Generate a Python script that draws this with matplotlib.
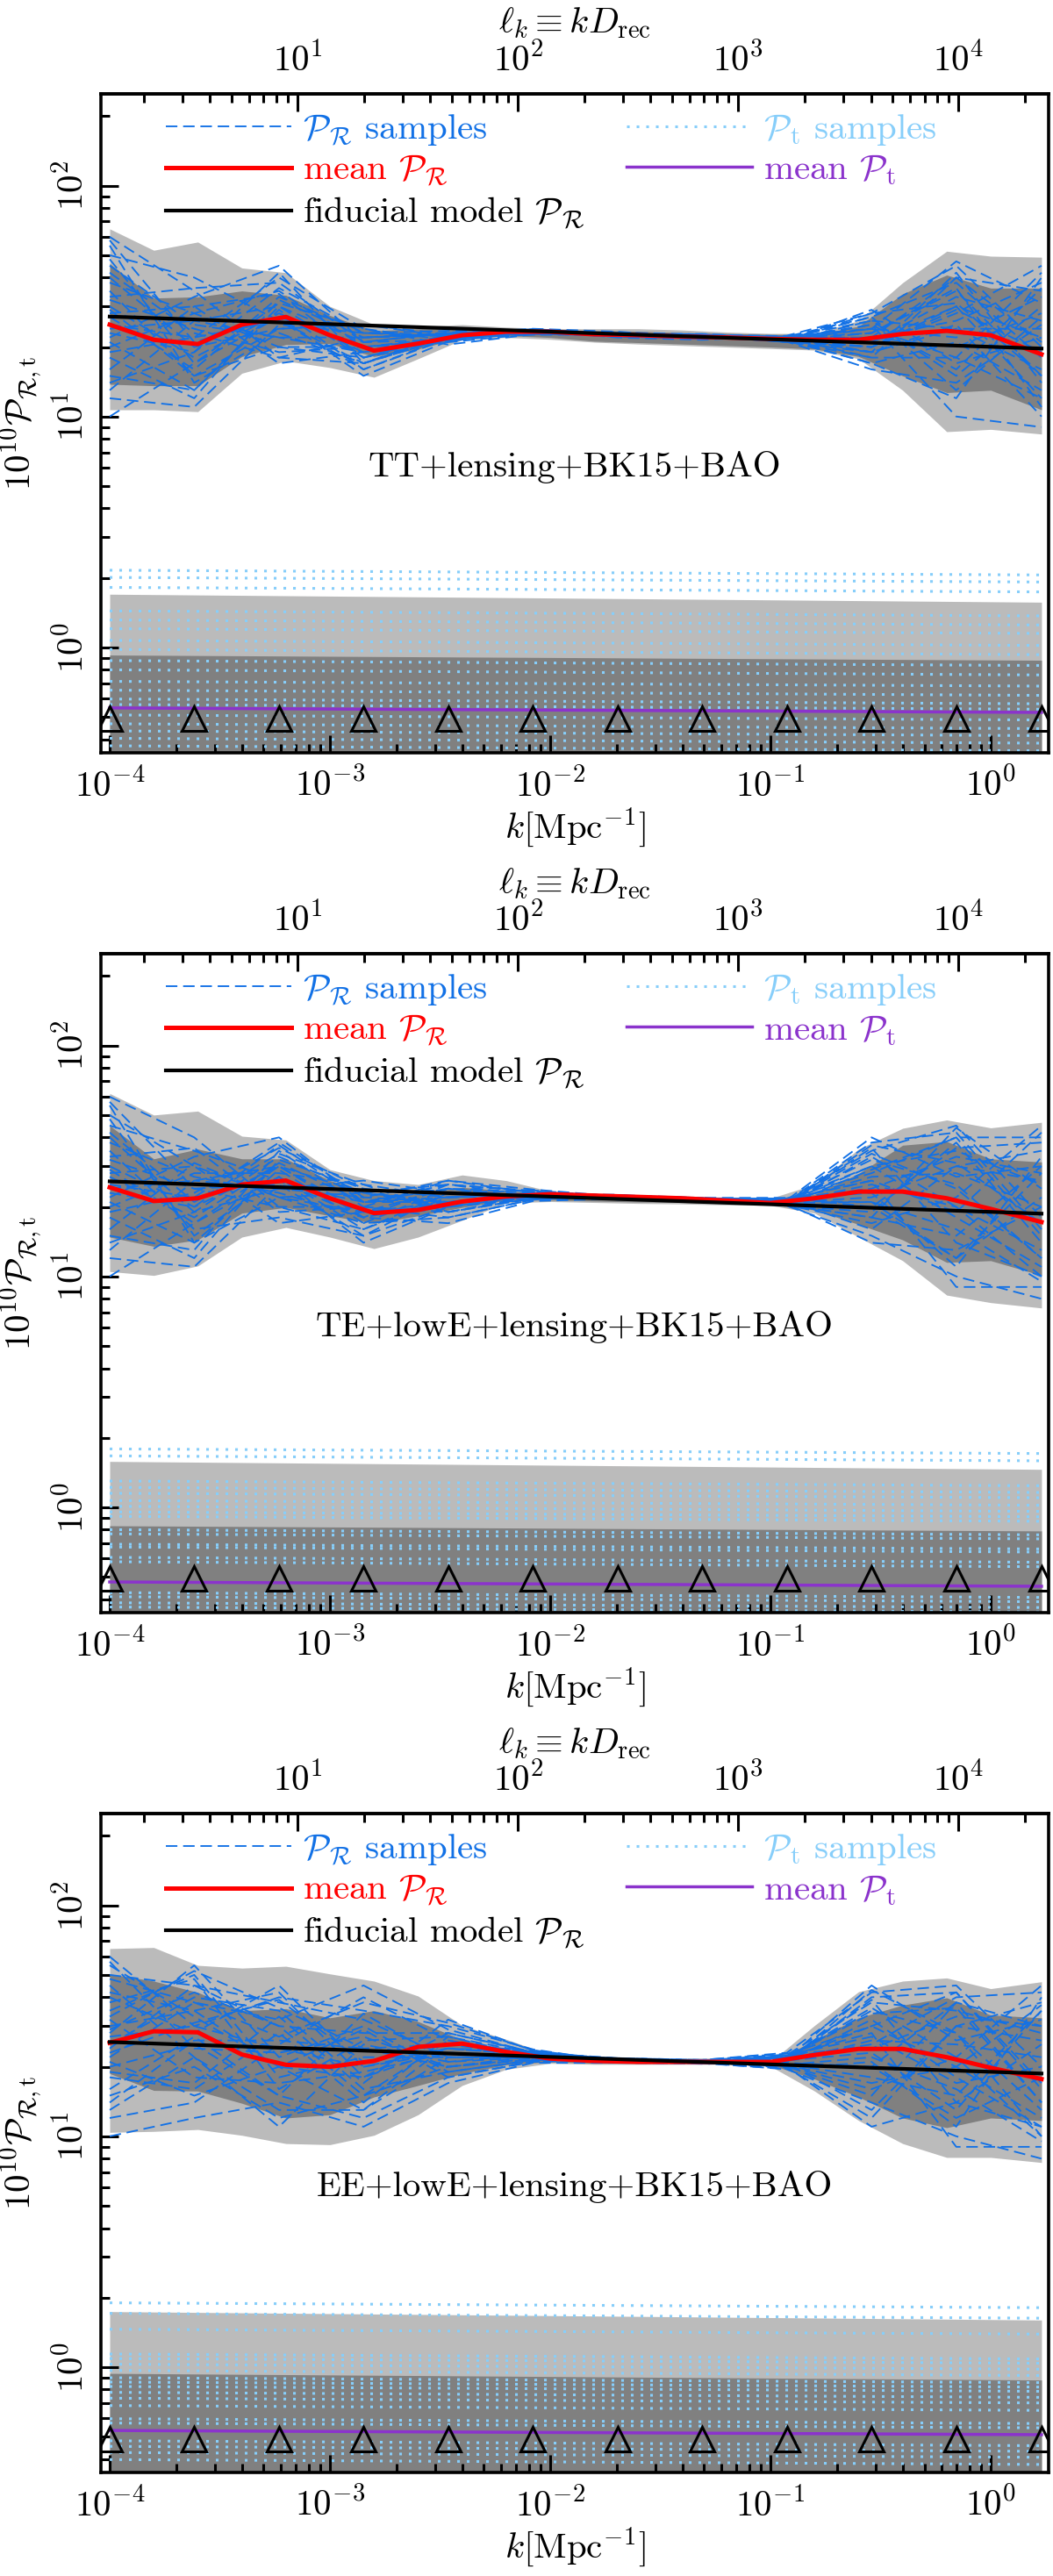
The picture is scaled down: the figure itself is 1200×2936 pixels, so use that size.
import numpy as np
import matplotlib
matplotlib.use("Agg")
import matplotlib.pyplot as plt
from matplotlib.lines import Line2D

plt.rcParams.update({
    "font.family": "serif",
    "font.serif": ["cmr10"],
    "mathtext.fontset": "cm",
    "axes.formatter.use_mathtext": True,
    "font.size": 29.5,
})

# k grid for the bands / means, knot positions for the samples
K_GRID = [1.0e-4, 1.585e-4, 2.512e-4, 3.981e-4, 6.31e-4, 1.0e-3, 1.585e-3, 2.512e-3,
          3.981e-3, 6.31e-3, 1.0e-2, 1.585e-2, 2.512e-2, 3.981e-2, 6.31e-2, 0.1,
          0.1585, 0.2512, 0.3981, 0.631, 1.0, 1.70]
K_KNOTS = [1.0e-4, 2.42e-4, 5.87e-4, 1.42e-3, 3.44e-3, 8.34e-3, 2.02e-2, 4.9e-2,
           0.1186, 0.2877, 0.697, 1.70]
K_ENDS = [1.0e-4, 1.70]
T_FLOOR = [0.1, 0.1]
TRI_Y = 0.49
D_REC = 14000.0

LABELS = ["TT+lensing+BK15+BAO", "TE+lowE+lensing+BK15+BAO", "EE+lowE+lensing+BK15+BAO"]

# ---- TT+lensing+BK15+BAO
tt_hi2 = [65, 52.5, 57, 44, 42, 30, 25, 24.6, 25, 24.4, 24, 24, 24, 23.7, 23.2, 22.9, 22.9, 26, 38, 52, 49.5, 49]
tt_hi1 = [46, 32.6, 33, 35, 33.5, 27.4, 23.5, 24, 24.4, 24, 23.7, 23.6, 23.4, 23.1, 22.9, 22.7, 22.6, 24.6, 34, 41, 36, 36]
tt_lo1 = [13.8, 13.6, 13.6, 18.2, 20.5, 20.7, 18.2, 19.6, 22, 22.4, 22.0, 21.2, 20.9, 20.6, 20.3, 20.0, 19.6, 18.2, 15, 12.7, 13, 10.7]
tt_lo2 = [10.7, 10.7, 10.5, 15.4, 17.4, 16.3, 14.8, 17.8, 21.5, 22.0, 21.6, 21.0, 20.6, 20.3, 20.0, 19.7, 19.4, 17.8, 13.0, 8.6, 8.8, 8.4]
tt_mean = [25, 21.5, 20.6, 25, 27, 22.5, 19.3, 20.7, 22.5, 23.3, 23.3, 22.7, 22.5, 22.2, 22.0, 21.7, 21.5, 21.5, 22.8, 23.5, 22.5, 18.6]
tt_fid = [27.1, 19.7]
tt_samples = [
    [30, 18, 28, 19, 22.0, 23.5, 22.8, 22.2, 21.5, 20, 30, 22],
    [45, 25, 22, 22, 23.0, 23.0, 22.4, 22.0, 21.8, 24, 18, 12],
    [15, 13, 30, 21, 21.5, 23.8, 23.0, 22.4, 21.2, 18, 40, 35],
    [60, 35, 18, 17, 22.5, 23.2, 22.2, 21.8, 22.0, 26, 15, 30],
    [20, 28, 35, 20, 21.0, 22.8, 22.9, 22.6, 21.0, 19, 25, 10],
    [12, 11, 25, 23, 23.5, 23.5, 22.0, 21.5, 22.4, 28, 45, 20],
    [35, 15, 20, 18, 22.8, 24.0, 23.3, 22.0, 21.3, 17, 12, 40],
    [25, 22, 40, 24, 20.5, 22.7, 22.6, 22.8, 21.9, 23, 35, 15],
    [50, 40, 26, 16, 22.0, 23.4, 22.5, 22.1, 21.6, 22, 20, 28],
    [18, 12, 32, 22, 22.8, 23.0, 23.0, 22.3, 21.4, 25, 10, 9],
    [28, 30, 17, 19, 21.8, 23.6, 22.7, 21.9, 21.7, 20, 28, 45],
    [40, 20, 24, 25, 22.2, 22.9, 22.3, 22.5, 22.2, 27, 38, 18],
    [10, 17, 27, 15, 21.2, 23.2, 22.8, 22.2, 21.1, 16, 14, 25],
    [22, 33, 45, 21, 23.0, 23.7, 22.4, 21.7, 21.9, 21, 30, 12],
    [32, 24, 19, 20, 21.5, 23.1, 23.1, 22.7, 21.5, 24, 22, 33],
    [14, 19, 36, 23, 22.6, 23.3, 22.1, 22.0, 21.8, 19, 42, 14],
    [55, 14, 23, 17, 21.9, 22.8, 22.6, 22.3, 21.3, 29, 17, 22],
    [24, 26, 30, 18, 22.4, 23.9, 22.9, 21.8, 22.0, 22, 26, 38],
    [27, 16, 33, 23, 22.3, 23.1, 22.5, 22.3, 21.6, 21, 33, 26],
    [38, 28, 20, 20, 21.6, 23.7, 23.0, 22.0, 21.2, 26, 24, 16],
    [19, 22, 26, 17, 22.9, 22.6, 22.7, 22.6, 21.9, 18, 18, 42],
    [48, 17, 31, 24, 21.4, 23.3, 22.2, 22.1, 21.4, 23, 36, 11],
    [13, 26, 22, 19, 22.1, 23.9, 22.9, 21.9, 21.7, 27, 13, 27],
    [33, 36, 38, 21, 23.2, 22.9, 22.6, 22.4, 21.0, 20, 29, 19],
    [21, 13, 29, 16, 21.7, 23.4, 22.4, 22.6, 22.3, 24, 47, 31],
    [42, 23, 18, 22, 22.5, 23.0, 23.2, 21.9, 21.5, 17, 21, 13],
    [16, 30, 34, 18, 21.3, 23.6, 22.3, 22.2, 21.8, 25, 16, 36],
    [29, 15, 24, 25, 22.7, 22.8, 22.8, 22.5, 21.2, 22, 40, 21],
    [58, 21, 27, 20, 22.0, 23.5, 22.5, 21.8, 22.1, 19, 24, 24],
    [23, 19, 42, 17, 21.9, 23.2, 22.9, 22.3, 21.4, 28, 31, 15],
]
tt_t_hi2 = [1.70, 1.57]
tt_t_hi1 = [0.927, 0.88]
tt_t_mean = [0.547, 0.523]
tt_t_left = [2.16, 2.01, 1.82, 1.44, 1.315, 1.205, 1.073, 0.98, 0.877, 0.80, 0.713, 0.653, 0.598, 0.566, 0.51, 0.467, 0.435, 0.404, 0.375]
tt_t_right = [2.06, 1.92, 1.74, 1.37, 1.25, 1.15, 1.02, 0.93, 0.835, 0.76, 0.68, 0.62, 0.57, 0.54, 0.485, 0.445, 0.415, 0.385, 0.357]

# ---- TE+lowE+lensing+BK15+BAO
te_hi2 = [62, 50, 52, 40.5, 39, 29, 26, 25, 27.5, 26, 23.4, 22.7, 22.4, 22, 21.8, 21.8, 25, 35.6, 43.8, 47.6, 44, 46.5]
te_hi1 = [45, 32.3, 35.6, 32.3, 32.3, 26, 23, 22.7, 24.3, 23.5, 22.7, 22.2, 21.9, 21.8, 21.6, 21.4, 22.7, 27.9, 37, 38.4, 32.3, 31.3]
te_lo1 = [14.8, 13.5, 14.4, 18.8, 19.9, 18.3, 17, 18.3, 19.9, 21.4, 21.4, 21.2, 21.0, 20.9, 20.7, 20.5, 19.4, 16.8, 14.4, 11.5, 11.7, 10.1]
te_lo2 = [10.5, 10.1, 11.1, 14.8, 16.3, 14.8, 13.2, 14.8, 17.5, 20.8, 21.1, 20.9, 20.7, 20.6, 20.4, 20.3, 18.8, 14.8, 11.7, 8.3, 7.7, 7.3]
te_mean = [24.3, 21.2, 21.8, 25, 26, 21.8, 18.8, 19.4, 21.1, 22.2, 22.7, 22.4, 22.1, 21.8, 21.3, 20.8, 21.8, 23.3, 23.3, 21.8, 19.6, 17.2]
te_fid = [25.8, 18.7]
te_samples = [
    [30, 20, 30, 18, 21, 22.5, 22.0, 21.4, 21.0, 25, 20, 10],
    [50, 30, 22, 23, 25, 23.5, 21.6, 21.0, 21.5, 30, 35, 25],
    [15, 13, 35, 20, 18, 21.5, 22.4, 21.8, 20.5, 18, 15, 30],
    [60, 40, 20, 16, 22, 22.8, 21.8, 21.2, 21.2, 35, 45, 18],
    [20, 28, 28, 25, 19, 21.8, 22.3, 21.6, 20.2, 15, 10, 8],
    [12, 11, 25, 21, 24, 23.2, 21.5, 21.5, 21.8, 28, 40, 40],
    [35, 16, 18, 15, 20, 22.0, 22.5, 21.9, 20.7, 20, 12, 22],
    [25, 22, 38, 22, 26, 23.8, 22.2, 21.3, 21.3, 32, 25, 12],
    [45, 35, 26, 18, 17, 21.2, 21.7, 21.7, 20.9, 22, 30, 35],
    [18, 12, 32, 24, 22, 22.6, 22.6, 21.1, 21.6, 26, 9, 9],
    [28, 30, 17, 19, 21, 23.0, 21.9, 21.4, 20.4, 17, 22, 45],
    [40, 19, 24, 26, 23, 22.2, 22.1, 21.8, 21.1, 38, 42, 16],
    [10, 17, 27, 14, 20, 21.6, 22.4, 21.5, 20.6, 14, 13, 20],
    [22, 33, 40, 21, 25, 23.3, 21.7, 21.2, 21.7, 24, 33, 28],
    [32, 24, 20, 20, 19, 22.3, 22.0, 21.7, 21.0, 30, 18, 11],
    [14, 19, 33, 23, 21, 22.9, 22.3, 21.4, 20.3, 19, 38, 14],
    [55, 14, 22, 17, 24, 21.9, 21.8, 21.6, 21.4, 40, 27, 30],
    [24, 26, 30, 19, 20, 22.4, 22.5, 21.3, 20.8, 21, 16, 9.5],
    [27, 18, 31, 21, 22, 22.9, 22.0, 21.6, 21.3, 27, 28, 20],
    [38, 27, 23, 18, 25, 22.3, 21.7, 21.2, 20.6, 33, 20, 13],
    [19, 23, 36, 24, 19, 21.7, 22.4, 21.9, 21.9, 20, 36, 38],
    [48, 15, 27, 16, 23, 23.6, 22.1, 21.3, 20.8, 36, 14, 10],
    [13, 26, 24, 22, 21, 22.1, 21.9, 21.7, 21.4, 16, 30, 26],
    [33, 36, 19, 20, 26, 23.0, 22.2, 21.5, 20.5, 29, 40, 15],
    [21, 14, 29, 17, 18, 21.5, 21.8, 21.8, 21.7, 23, 11, 33],
    [42, 21, 34, 25, 22, 22.7, 22.5, 21.2, 21.0, 34, 24, 12],
    [16, 31, 22, 19, 24, 22.0, 21.6, 21.6, 20.4, 18, 44, 24],
    [29, 17, 30, 23, 20, 23.3, 22.3, 21.4, 21.5, 26, 19, 42],
    [57, 24, 25, 15, 23, 22.5, 21.9, 21.9, 20.9, 37, 31, 17],
    [23, 20, 37, 21, 21, 21.9, 22.0, 21.3, 21.2, 21, 12, 28],
]
te_t_hi2 = [1.58, 1.46]
te_t_hi1 = [0.832, 0.79]
te_t_mean = [0.475, 0.455]
te_t_left = [1.79, 1.67, 1.30, 1.22, 1.15, 1.07, 1.01, 0.955, 0.914, 0.80, 0.767, 0.692, 0.673, 0.607, 0.581, 0.427, 0.41, 0.386, 0.37]
te_t_right = [1.71, 1.59, 1.24, 1.16, 1.10, 1.02, 0.96, 0.91, 0.87, 0.76, 0.73, 0.66, 0.64, 0.578, 0.553, 0.407, 0.39, 0.368, 0.352]

# ---- EE+lowE+lensing+BK15+BAO
ee_hi2 = [65, 65.7, 55, 53.5, 54.5, 50.5, 47, 40.5, 30.2, 26.3, 22.6, 22, 21.8, 21.8, 21.8, 21, 30.2, 42.3, 47, 48.5, 43.6, 46.7]
ee_hi1 = [50.5, 47, 42, 35, 35.7, 32.6, 35, 31.4, 26.2, 23.6, 22.2, 21.6, 21.6, 21.6, 21.6, 20.6, 26.2, 32.6, 37, 39.8, 33.5, 32.6]
ee_lo1 = [18.7, 15.8, 15.7, 13.9, 12, 12.4, 14.8, 16.6, 18.7, 20.4, 21, 20.7, 20.7, 20.7, 20.7, 20.4, 17.7, 14.8, 12, 10.9, 12, 11.7]
ee_lo2 = [10.4, 10.5, 10.7, 10.1, 9.3, 9.2, 10.1, 12.4, 16.6, 19.5, 20.7, 20.5, 20.5, 20.5, 20.5, 20.1, 15.7, 11.7, 9.3, 8.1, 8.1, 7.7]
ee_mean = [25.4, 28.5, 28.2, 22.6, 20.4, 20, 21.2, 24.4, 25.2, 23.2, 21.7, 21.2, 21, 21, 21, 21, 22.5, 23.9, 23.9, 22, 19.8, 17.7]
ee_fid = [25.6, 18.7]
ee_samples = [
    [30, 35, 20, 18, 24, 22.5, 21.2, 20.9, 21.5, 30, 20, 12],
    [50, 45, 30, 28, 28, 23.2, 21.5, 21.2, 22.5, 38, 35, 28],
    [15, 20, 12, 15, 20, 21.5, 20.8, 20.7, 20.5, 18, 15, 35],
    [60, 30, 40, 35, 30, 23.8, 21.0, 21.4, 23, 42, 45, 20],
    [20, 25, 15, 12, 18, 21.0, 21.4, 20.8, 19.5, 14, 10, 8],
    [12, 14, 25, 40, 26, 22.8, 21.7, 21.1, 22.0, 25, 40, 42],
    [35, 50, 18, 22, 22, 21.8, 20.9, 20.6, 20.8, 20, 12, 18],
    [25, 40, 35, 17, 32, 23.5, 21.3, 21.3, 21.8, 35, 28, 10],
    [45, 22, 11, 25, 21, 22.0, 21.6, 21.0, 19.8, 12, 30, 38],
    [18, 16, 28, 14, 27, 22.2, 21.1, 20.9, 22.3, 28, 9, 9],
    [28, 55, 22, 30, 19, 21.3, 21.5, 21.2, 20.2, 16, 22, 45],
    [40, 28, 45, 20, 24, 22.6, 21.0, 20.8, 21.2, 40, 42, 16],
    [10, 12, 14, 11, 17, 20.8, 20.8, 21.0, 20.0, 11, 14, 25],
    [22, 38, 32, 45, 29, 23.0, 21.8, 21.4, 22.8, 24, 33, 30],
    [32, 18, 17, 19, 23, 22.4, 21.2, 20.7, 21.0, 32, 18, 11],
    [14, 26, 26, 24, 20, 21.7, 21.4, 21.1, 20.6, 20, 38, 14],
    [55, 33, 20, 13, 25, 23.4, 21.1, 20.9, 21.6, 45, 26, 32],
    [24, 45, 38, 32, 22, 22.1, 21.6, 21.3, 20.4, 22, 16, 9.5],
    [27, 30, 24, 20, 23, 22.3, 21.3, 21.0, 21.1, 26, 25, 22],
    [38, 48, 16, 26, 27, 22.9, 21.0, 20.8, 22.0, 34, 36, 14],
    [19, 17, 33, 16, 19, 21.4, 21.6, 21.2, 20.3, 17, 20, 37],
    [48, 38, 27, 38, 31, 23.6, 21.2, 21.1, 21.4, 39, 14, 11],
    [13, 22, 13, 13, 22, 21.9, 21.5, 20.9, 20.7, 13, 30, 26],
    [33, 52, 36, 24, 25, 22.4, 20.9, 21.3, 22.6, 30, 42, 17],
    [21, 15, 20, 29, 18, 21.1, 21.4, 20.7, 19.6, 21, 11, 40],
    [42, 35, 42, 18, 28, 23.1, 21.7, 21.2, 21.9, 36, 22, 10],
    [16, 27, 15, 34, 21, 22.7, 21.3, 20.9, 20.1, 15, 38, 30],
    [29, 42, 30, 15, 26, 21.6, 21.1, 21.0, 22.4, 27, 17, 20],
    [57, 24, 23, 27, 20, 22.2, 21.8, 21.4, 20.9, 43, 28, 13],
    [23, 31, 39, 21, 24, 23.3, 21.2, 20.8, 21.3, 23, 13, 35],
]
ee_t_hi2 = [1.74, 1.60]
ee_t_hi1 = [0.94, 0.88]
ee_t_mean = [0.532, 0.51]
ee_t_left = [1.90, 1.71, 1.46, 1.14, 1.09, 1.03, 0.968, 0.90, 0.862, 0.825, 0.778, 0.734, 0.682, 0.598, 0.573, 0.48, 0.454, 0.427, 0.398]
ee_t_right = [1.81, 1.63, 1.39, 1.085, 1.04, 0.98, 0.92, 0.857, 0.82, 0.786, 0.74, 0.70, 0.65, 0.57, 0.546, 0.457, 0.432, 0.407, 0.379]

panels = [
    dict(hi2=tt_hi2, hi1=tt_hi1, lo1=tt_lo1, lo2=tt_lo2, mean=tt_mean, fid=tt_fid, samples=tt_samples,
         t_hi2=tt_t_hi2, t_hi1=tt_t_hi1, t_mean=tt_t_mean, t_left=tt_t_left, t_right=tt_t_right),
    dict(hi2=te_hi2, hi1=te_hi1, lo1=te_lo1, lo2=te_lo2, mean=te_mean, fid=te_fid, samples=te_samples,
         t_hi2=te_t_hi2, t_hi1=te_t_hi1, t_mean=te_t_mean, t_left=te_t_left, t_right=te_t_right),
    dict(hi2=ee_hi2, hi1=ee_hi1, lo1=ee_lo1, lo2=ee_lo2, mean=ee_mean, fid=ee_fid, samples=ee_samples,
         t_hi2=ee_t_hi2, t_hi1=ee_t_hi1, t_mean=ee_t_mean, t_left=ee_t_left, t_right=ee_t_right),
]

BLUE = "#1271e6"
LIGHTBLUE = "#87cefa"
PURPLE = "#8b33cc"
GREY_LIGHT = "#bbbbbb"
GREY_DARK = "#808080"

fig = plt.figure(figsize=(12, 29.36), dpi=100)
bottoms = [0.7078, 0.3740, 0.0402]

for p, bottom, label in zip(panels, bottoms, LABELS):
    ax = fig.add_axes([0.0958, bottom, 0.9, 0.2558])
    ax.set_xscale("log")
    ax.set_yscale("log")

    ax.fill_between(K_GRID, p["lo2"], p["hi2"], color=GREY_LIGHT, lw=0)
    ax.fill_between(K_GRID, p["lo1"], p["hi1"], color=GREY_DARK, lw=0)
    ax.fill_between(K_ENDS, T_FLOOR, p["t_hi2"], color=GREY_LIGHT, lw=0)
    ax.fill_between(K_ENDS, T_FLOOR, p["t_hi1"], color=GREY_DARK, lw=0)

    for l, r in zip(p["t_left"], p["t_right"]):
        ax.plot(K_ENDS, [l, r], color=LIGHTBLUE, lw=2.2, ls=(0, (1, 2.6)))
    for s in p["samples"]:
        ax.plot(K_KNOTS, s, color=BLUE, lw=1.35, dashes=(7, 3.5))
    ax.plot(K_GRID, p["mean"], color="red", lw=3.6)
    ax.plot(K_ENDS, p["fid"], color="black", lw=3.0)
    ax.plot(K_ENDS, p["t_mean"], color=PURPLE, lw=2.5)
    ax.plot(K_KNOTS, np.full(len(K_KNOTS), TRI_Y), ls="none", marker="^", ms=20,
            mfc="none", mec="black", mew=2.2)

    ax.set_xlim(9.12e-5, 1.83)
    ax.set_ylim(0.35, 250)

    ax.text(0.5, 0.433, label, transform=ax.transAxes, ha="center", va="center")

    ax.set_xlabel(r"$k[\mathrm{Mpc}^{-1}]$", labelpad=2)
    ax.set_ylabel(r"$10^{10}\mathcal{P}_{\mathcal{R},\mathrm{t}}$", labelpad=8)

    for sp in ax.spines.values():
        sp.set_linewidth(2.6)
    ax.tick_params(which="both", direction="in", width=2.2)
    ax.tick_params(which="major", length=14.5)
    ax.tick_params(which="minor", length=7)
    ax.tick_params(axis="x", pad=12)
    ax.tick_params(axis="y", pad=9, labelrotation=90)
    for t in ax.get_yticklabels():
        t.set_va("center")

    sec = ax.secondary_xaxis("top", functions=(lambda k: k * D_REC, lambda l: l / D_REC))
    sec.tick_params(which="both", direction="in", width=2.2, pad=13)
    sec.tick_params(which="major", length=14.5)
    sec.tick_params(which="minor", length=7)
    sec.spines["top"].set_linewidth(2.6)
    # top axis title placed above the ell tick labels
    ax.text(0.5, 1.107, r"$\ell_k \equiv kD_\mathrm{rec}$", transform=ax.transAxes,
            ha="center", va="center")

    handles = [
        Line2D([], [], color=BLUE, lw=1.35, dashes=(7, 3.5)),
        Line2D([], [], color="red", lw=3.6),
        Line2D([], [], color="black", lw=3.0),
        Line2D([], [], color=LIGHTBLUE, lw=2.2, ls=(0, (1, 2.6))),
        Line2D([], [], color=PURPLE, lw=2.5),
    ]
    names = [r"$\mathcal{P}_\mathcal{R}$ samples", r"mean $\mathcal{P}_\mathcal{R}$",
             r"fiducial model $\mathcal{P}_\mathcal{R}$", r"$\mathcal{P}_\mathrm{t}$ samples",
             r"mean $\mathcal{P}_\mathrm{t}$"]
    ax.legend(handles, names, ncol=2, loc="upper left", bbox_to_anchor=(0.0685, 0.972),
              frameon=False, borderpad=0, borderaxespad=0, handlelength=3.5,
              handletextpad=0.32, columnspacing=1.15, labelspacing=0.15,
              labelcolor="linecolor")

fig.savefig("out.png", dpi=100)
